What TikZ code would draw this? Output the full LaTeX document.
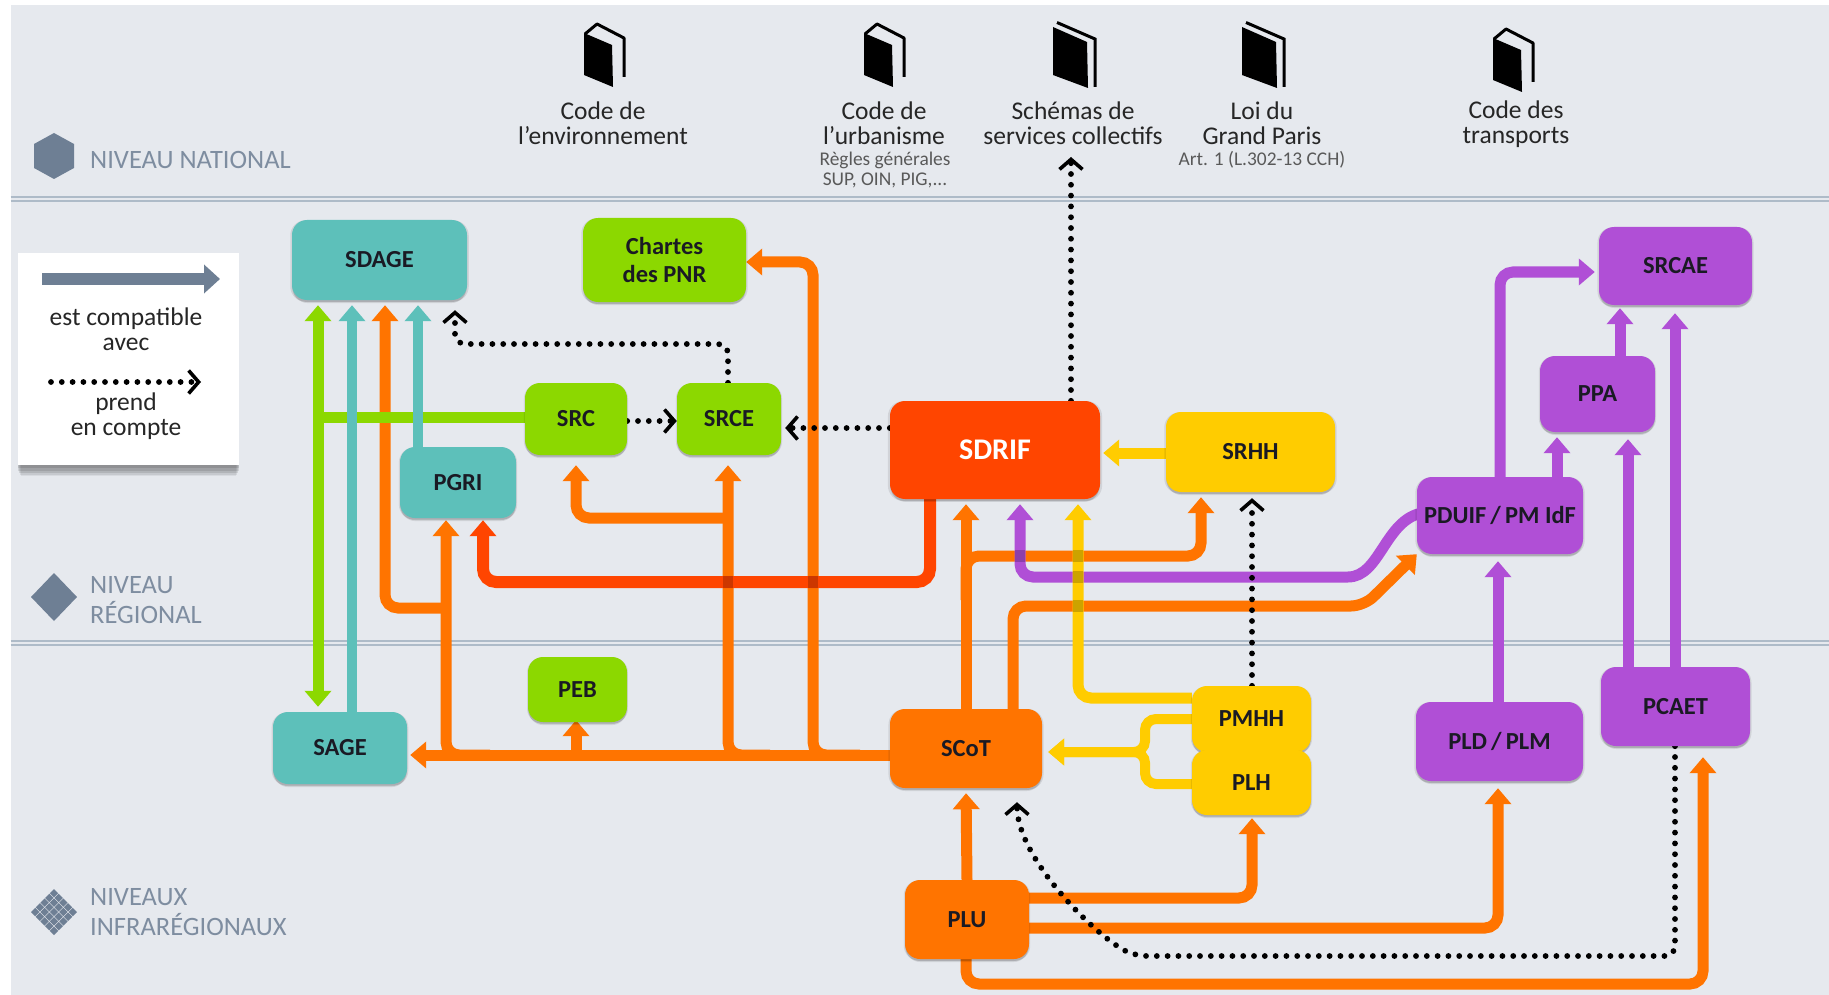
\documentclass[tikz,border=0pt]{standalone}
\usepackage{fontspec}
\setmainfont{Carlito}
\usetikzlibrary{arrows.meta,shadows}
\definecolor{panel}{HTML}{E6E9EE}
\definecolor{rule}{HTML}{AEBBC8}
\definecolor{slate}{HTML}{6E7F94}
\definecolor{levtext}{HTML}{7E8DA0}
\definecolor{teal}{HTML}{5DC0BA}
\definecolor{vert}{HTML}{8CD800}
\definecolor{oran}{HTML}{FF7400}
\definecolor{rouge}{HTML}{FF4500}
\definecolor{jaune}{HTML}{FFCC00}
\definecolor{violet}{HTML}{B04FD6}
\definecolor{ink}{HTML}{1A1A24}
\pgfdeclarelayer{back}
\pgfdeclarelayer{conn}
\pgfsetlayers{back,conn,main}
\tikzset{
  softshadow/.style={
    general shadow={shadow xshift=0pt,shadow yshift=-1pt,shadow scale=1.02,fill=black,opacity=.09},
    general shadow={shadow xshift=0pt,shadow yshift=-2pt,fill=black,opacity=.09},
    general shadow={shadow xshift=0pt,shadow yshift=-3.5pt,shadow scale=.99,fill=black,opacity=.09}},
  legendshadow/.style={
    general shadow={shadow xshift=0pt,shadow yshift=-3pt,fill=black,opacity=.10},
    general shadow={shadow xshift=0pt,shadow yshift=-6pt,fill=black,opacity=.10},
    general shadow={shadow xshift=0pt,shadow yshift=-9pt,shadow scale=.99,fill=black,opacity=.10},
    general shadow={shadow xshift=0pt,shadow yshift=-12pt,shadow scale=.98,fill=black,opacity=.08},
    general shadow={shadow xshift=0pt,shadow yshift=-15pt,shadow scale=.97,fill=black,opacity=.06}},
  boxn/.style={rounded corners=15pt,inner sep=0pt,align=center,text=ink,
    font=\fontsize{24.5}{28}\selectfont\bfseries,softshadow},
  arr/.style={line width=11pt,rounded corners=13pt,
    -{Triangle[width=26pt,length=16pt]}},
  plain/.style={line width=11pt,rounded corners=13pt},
  dots/.style={draw=black,line width=5.8pt,line cap=round,rounded corners=10pt,
    dash pattern=on 0pt off 10.8pt},
  dotarr/.style={dots,-{Straight Barb[length=10pt,width=23pt,line width=3.6pt]}},
  code/.style={align=center,text=black!85,font=\fontsize{25.5}{25}\selectfont,inner sep=0pt},
  note/.style={align=center,text=black!65,font=\fontsize{19.4}{20}\selectfont,inner sep=0pt},
  lev/.style={align=left,anchor=west,text=levtext,font=\fontsize{26.5}{30}\selectfont,inner sep=0pt},
  crossing/.style={fill=black,opacity=.2},
  bookA/.pic={
    \fill[black] (14,18) -- (42,30) -- (43,72) -- (14,60) -- cycle;
    \draw[black,line width=3pt,line join=round] (15,19) -- (27,9) -- (54,23) -- (54,62);
  },
  bookB/.pic={
    \fill[black] (13,12) -- (47,27) -- (48,73) -- (13,60) -- cycle;
    \draw[black,line width=3pt] (17,7.5) -- (55,24) -- (55,72);
  },
}
\newcommand{\mybox}[7]{\node[boxn,fill=#6,minimum width={(#4-#2)*1pt},minimum height={(#5-#3)*1pt}] (#1) at ({(#2+#4)/2},{(#3+#5)/2}) {#7};}
\begin{document}
\begin{tikzpicture}[x=1pt,y=-1pt]
\useasboundingbox (0,0) rectangle (1829,995);
\begin{pgfonlayer}{back}
\fill[white] (0,0) rectangle (1829,995);
\fill[panel] (10.5,5) rectangle (1829,995);
% level rules
\draw[rule,line width=1.5pt] (10.5,197) -- (1829,197);
\draw[rule,line width=1.5pt] (10.5,201) -- (1829,201);
\draw[rule,line width=1.5pt] (10.5,641) -- (1829,641);
\draw[rule,line width=1.5pt] (10.5,645) -- (1829,645);
% level icons
\fill[slate] (54,133) -- (74,144) -- (74,168) -- (54,179) -- (34,168) -- (34,144) -- cycle;
\fill[slate] (54,573) -- (77,597) -- (54,621) -- (31,597) -- cycle;
\foreach \i in {-2,...,2}{\foreach \j in {-2,...,2}{
  \fill[slate] ({54+(\i-\j)*4.7},{912+(\i+\j)*4.7}) +(0,-4.2) -- +(4.2,0) -- +(0,4.2) -- +(-4.2,0) -- cycle;
}}
\end{pgfonlayer}
\node[lev] (tnat) at (90,160) {NIVEAU NATIONAL};
\node[lev] (treg) at (90,600) {NIVEAU\\RÉGIONAL};
\node[lev] (tinf) at (90,912) {NIVEAUX\\INFRARÉGIONAUX};
% books
\pic at (570,15) {bookA};
\pic at (850,15) {bookA};
\pic at (1040,15) {bookB};
\pic at (1229,15) {bookB};
\pic at (1479,20) {bookA};
% code labels
\node[code] (cenv) at (603,122.8) {Code de\\l’environnement};
\node[code] (curb) at (884,122.8) {Code de\\l’urbanisme};
\node[note] (nurb) at (885,170) {Règles générales\\SUP, OIN, PIG,...};
\node[code] (csch) at (1073,122.8) {Schémas de\\services collectifs};
\node[code] (cloi) at (1262,122.8) {Loi du\\Grand Paris};
\node[note] (nloi) at (1262,160) {Art. 1 (L.302-13 CCH)};
\node[code] (ctra) at (1516,124.5) {Code des\\transports};
\coordinate (schcol) at (1071,157);
% legend
\node[fill=white,minimum width=221.5pt,minimum height=212pt,inner sep=0pt,legendshadow] (legend) at (128.5,359) {};
\coordinate (la) at (42,279); \coordinate (lb) at (220,279);
\draw[slate,line width=12pt,-{Triangle[width=28pt,length=16pt]}] (la) -- (lb);
\node[code] (l1) at (126,329) {est compatible\\avec};
\coordinate (lc) at (51,382); \coordinate (ld) at (201,382);
\draw[dotarr] (lc) -- (ld);
\node[code] (l2) at (126,416.5) {prend\\en compte};
% nodes
\mybox{sdage}{292}{220}{467}{300}{teal}{SDAGE}
\mybox{pnr}{583}{218}{746}{302}{vert}{Chartes\\des PNR}
\mybox{src}{525}{383}{627}{455}{vert}{\raisebox{-2.5pt}{SRC}}
\mybox{srce}{677}{383}{781}{455}{vert}{\raisebox{-2.5pt}{SRCE}}
\mybox{pgri}{400}{447}{516}{518}{teal}{\raisebox{-1pt}{PGRI}}
\node[boxn,fill=rouge,minimum width=210pt,minimum height=98pt,text=white,font=\fontsize{30}{32}\selectfont\bfseries] (sdrif) at (995,450) {SDRIF};
\mybox{srhh}{1166}{412}{1335}{492}{jaune}{SRHH}
\mybox{srcae}{1599}{227}{1752}{305}{violet}{SRCAE}
\mybox{ppa}{1540}{356}{1655}{432}{violet}{PPA}
\mybox{pduif}{1417}{477}{1583}{554}{violet}{PDUIF\,/\,PM IdF}
\mybox{pmhh}{1192}{686}{1311}{752}{jaune}{\raisebox{-2.5pt}{PMHH}}
\mybox{plh}{1192}{750}{1311}{815}{jaune}{\raisebox{-1pt}{PLH}}
\mybox{scot}{890}{709}{1042}{788}{oran}{SCoT}
\mybox{plu}{905}{880}{1029}{959}{oran}{\raisebox{-3pt}{PLU}}
\mybox{pld}{1416}{702}{1583}{781}{violet}{PLD\,/\,PLM}
\mybox{pcaet}{1601}{667}{1750}{746}{violet}{PCAET}
\mybox{peb}{528}{657}{627}{722}{vert}{PEB}
\mybox{sage}{273}{712}{407}{784}{teal}{SAGE}
% connectors
\begin{pgfonlayer}{conn}
% orange
\draw[arr,oran,shorten >=3pt] (scot.west |- 0,755) -- (sage.east |- 0,755);
\draw[arr,oran] (860,755) -- (813,755) -- (813,262) -- (pnr.east |- 0,262);
\draw[arr,oran,shorten >=10pt] (770,755) -- (728,755) -- (728,0 |- srce.south);
\draw[arr,oran,shorten >=10pt] (728,518) -- (576,518) -- (576,0 |- src.south);
\draw[arr,oran,shorten >=2pt] (490,755) -- (446,755) -- (446,0 |- pgri.south);
\draw[arr,oran,shorten >=5pt] (446,608) -- (385,608) -- (385,0 |- sdage.south);
\draw[arr,oran,shorten >=-2pt] (576,755) -- (576,0 |- peb.south);
\draw[arr,oran,shorten >=5pt] (966,0 |- scot.north) -- (966,0 |- sdrif.south);
\draw[arr,oran,shorten >=5pt] (966,600) -- (966,556) -- (1201,556) -- (1201,0 |- srhh.south);
\draw[arr,oran] (1013,0 |- scot.north) -- (1013,606) -- (1364,606) -- (pduif.south west);
\draw[arr,oran,shorten >=5pt] (plu.north) -- (scot.south);
\draw[arr,oran,shorten >=3pt] (plu.east |- 0,898) -- (1252,898) -- (1252,0 |- plh.south);
\draw[arr,oran,shorten >=7pt] (plu.east |- 0,928) -- (1498,928) -- (1498,0 |- pld.south);
\draw[arr,oran,shorten >=11pt] (966,0 |- plu.south) -- (966,984) -- (1703,984) -- (1703,0 |- pcaet.south);
% red
\draw[arr,rouge,line width=12pt,shorten >=2pt] (930,0 |- sdrif.south) -- (930,582) -- (483,582) -- (483,0 |- pgri.south);
% green
\draw[plain,vert] (src.west |- 0,417) -- (318,417);
\draw[line width=11pt,vert,{Triangle[width=26pt,length=16pt]}-{Triangle[width=26pt,length=16pt]},shorten <=5pt,shorten >=5pt] (318,0 |- sdage.south) -- (318,0 |- sage.north);
% teal
\draw[arr,teal,line width=10pt,shorten >=5pt] (352,0 |- sage.north) -- (352,0 |- sdage.south);
\draw[arr,teal,line width=10pt,shorten >=5pt] (418,0 |- pgri.north) -- (418,0 |- sdage.south);
% purple
\draw[arr,violet,shorten >=5pt] (1422,513) .. controls (1385,520) and (1380,577) .. (1335,577) -- (1020,577) -- (1020,0 |- sdrif.south);
\draw[arr,violet,shorten >=7pt] (1498,0 |- pld.north) -- (1498,0 |- pduif.south);
\draw[arr,violet,shorten >=4pt] (1500,0 |- pduif.north) -- (1500,272) -- (srcae.west |- 0,272);
\draw[arr,violet,shorten >=5pt] (1557,0 |- pduif.north) -- (1557,0 |- ppa.south);
\draw[arr,violet,shorten >=3pt] (1620,0 |- ppa.north) -- (1620,0 |- srcae.south);
\draw[arr,violet,shorten >=7pt] (1628,0 |- pcaet.north) -- (1628,0 |- ppa.south);
\draw[arr,violet,shorten >=8pt] (1675,0 |- pcaet.north) -- (1675,0 |- srcae.south);
% yellow
\draw[arr,jaune,shorten >=3pt] (srhh.west |- 0,453) -- (sdrif.east |- 0,453);
\draw[arr,jaune,shorten >=5pt] (pmhh.west |- 0,698) -- (1078,698) -- (1078,0 |- sdrif.south);
\draw[arr,jaune,line width=10pt,shorten >=6pt,rounded corners=11pt] (pmhh.west |- 0,719) -- (1145,719) -- (1145,752) -- (scot.east |- 0,752);
\draw[arr,jaune,line width=10pt,shorten >=6pt,rounded corners=11pt] (plh.west |- 0,784) -- (1145,784) -- (1145,752) -- (scot.east |- 0,752);
% darker patches where lines cross
\foreach \cx/\cy in {728/582,813/582,1020/556,1078/556,1078/577,1078/606}{
  \fill[crossing] ({\cx-5},{\cy-6}) rectangle ({\cx+5},{\cy+6});
}
% dotted
\draw[dotarr,shorten >=0pt] (schcol |- sdrif.north) -- (schcol);
\draw[dotarr,shorten >=10pt] (728,0 |- srce.north) -- (728,344) -- (455,344) -- (455,0 |- sdage.south);
\draw[dotarr,shorten >=0pt] (src.east |- 0,421) -- (srce.west |- 0,421);
\draw[dotarr,shorten >=4pt] (sdrif.west |- 0,428) -- (srce.east |- 0,428);
\draw[dotarr,shorten >=6pt] (1252,0 |- pmhh.north) -- (1252,0 |- srhh.south);
\draw[dotarr,shorten >=14pt] (1675,0 |- pcaet.south) -- (1675,956) -- (1137,956) .. controls (1100,940) and (1017,860) .. (1017,0 |- scot.south);
\end{pgfonlayer}
\end{tikzpicture}
\end{document}
